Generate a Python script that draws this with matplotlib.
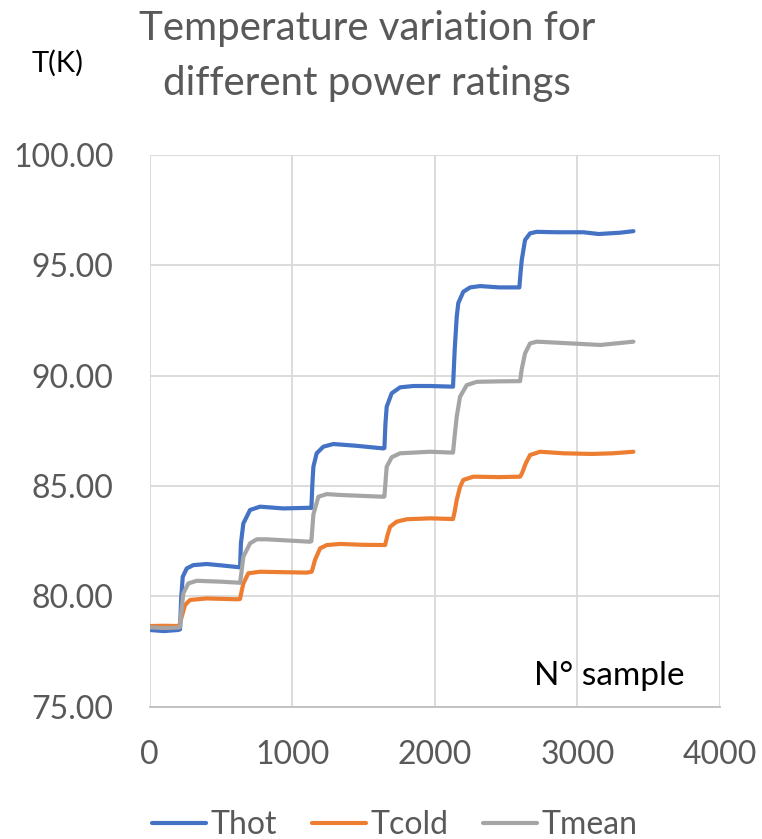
import matplotlib
matplotlib.use("Agg")
import matplotlib.pyplot as plt

plt.rcParams["font.family"] = ["Lato", "DejaVu Sans"]

# ── Measured temperatures vs sample number (breakpoints of the traces) ──
thot_n = [0, 100, 202, 214, 222, 233, 261, 307, 401, 500, 635,
          641, 658, 705, 775, 938, 1126, 1135,
          1142, 1149, 1172, 1219, 1289, 1450, 1640, 1647,
          1654, 1663, 1698, 1757, 1850, 1967, 2128,
          2140, 2154, 2165, 2200, 2248, 2318, 2450, 2593,
          2602, 2610, 2633, 2668, 2715, 2850, 3042, 3150, 3300, 3393]
thot_T = [78.47, 78.42, 78.47, 78.50, 79.90, 80.88, 81.26, 81.41, 81.46, 81.40, 81.31,
          82.40, 83.30, 83.91, 84.06, 83.98, 84.01, 84.00,
          85.10, 85.87, 86.48, 86.78, 86.90, 86.82, 86.70, 86.72,
          87.80, 88.59, 89.20, 89.47, 89.53, 89.53, 89.50,
          91.20, 92.67, 93.29, 93.80, 94.00, 94.06, 94.00, 94.00,
          94.70, 95.24, 96.15, 96.45, 96.52, 96.50, 96.50, 96.42, 96.48, 96.55]

tcold_n = [0, 100, 202, 210, 226, 249, 284, 401, 623, 635,
           645, 658, 693, 775, 1102, 1137,
           1148, 1160, 1196, 1243, 1336, 1500, 1652,
           1668, 1687, 1733, 1804, 1967, 2128,
           2140, 2154, 2177, 2200, 2270, 2450, 2598,
           2610, 2640, 2668, 2738, 2900, 3100, 3250, 3393]
tcold_T = [78.65, 78.66, 78.65, 78.70, 79.07, 79.60, 79.83, 79.90, 79.86, 79.88,
           80.20, 80.58, 81.04, 81.11, 81.07, 81.11,
           81.35, 81.64, 82.17, 82.32, 82.37, 82.33, 82.32,
           82.75, 83.15, 83.38, 83.49, 83.53, 83.50,
           83.85, 84.36, 84.95, 85.27, 85.42, 85.40, 85.42,
           85.55, 86.05, 86.40, 86.55, 86.48, 86.45, 86.48, 86.55]

tmean_n = [0, 100, 202, 214, 225, 237, 272, 331, 500, 635,
           645, 658, 705, 752, 822, 1126, 1135,
           1142, 1149, 1184, 1243, 1336, 1640, 1647,
           1655, 1663, 1698, 1757, 1967, 2128,
           2140, 2154, 2177, 2224, 2295, 2450, 2598,
           2610, 2633, 2668, 2715, 2900, 3160, 3393]
tmean_T = [78.59, 78.56, 78.58, 78.60, 79.40, 80.13, 80.58, 80.70, 80.66, 80.61,
           81.10, 81.79, 82.40, 82.58, 82.58, 82.47, 82.50,
           83.10, 83.70, 84.51, 84.63, 84.59, 84.51, 84.52,
           85.20, 85.87, 86.30, 86.48, 86.55, 86.51,
           87.30, 88.14, 89.04, 89.57, 89.72, 89.74, 89.75,
           90.30, 91.01, 91.46, 91.54, 91.48, 91.39, 91.54]

x_ticks = [0, 1000, 2000, 3000, 4000]
y_ticks = [75, 80, 85, 90, 95, 100]

BLUE = "#4472C4"
ORANGE = "#ED7D31"
GREY = "#A5A5A5"
TEXT = "#595959"

fig = plt.figure(figsize=(7.62, 8.39), dpi=100)
ax = fig.add_axes([0.1962, 0.1579, 0.7487, 0.6573])

ax.plot(thot_n, thot_T, color=BLUE, lw=3.0, label="Thot", solid_capstyle="round")
ax.plot(tcold_n, tcold_T, color=ORANGE, lw=3.0, label="Tcold", solid_capstyle="round")
ax.plot(tmean_n, tmean_T, color=GREY, lw=3.0, label="Tmean", solid_capstyle="round")

ax.set_xlim(0, 4000)
ax.set_ylim(75, 100)
ax.set_xticks(x_ticks)
ax.set_yticks(y_ticks)
ax.set_yticklabels([f"{v:.2f}" for v in y_ticks])
ax.tick_params(axis="both", length=0, labelsize=23, colors=TEXT)
ax.tick_params(axis="y", pad=26)
ax.tick_params(axis="x", pad=24)

ax.grid(True, color="#D9D9D9", lw=1.3)
ax.set_axisbelow(True)
for side in ["top", "right", "left"]:
    ax.spines[side].set_visible(False)
ax.spines["bottom"].set_color("#BFBFBF")
ax.spines["bottom"].set_linewidth(1.3)

# titles and axis captions
fig.text(0.482, 0.9523, "Temperature variation for", ha="center",
         va="baseline", fontsize=29, color=TEXT)
fig.text(0.482, 0.8868, "different power ratings", ha="center",
         va="baseline", fontsize=29, color=TEXT)
fig.text(0.075, 0.925, "T(K)", ha="center", va="center", fontsize=21, color="black")
ax.text(0.937, 0.039, "N° sample", transform=ax.transAxes, ha="right",
        va="baseline", fontsize=24, color="black")

fig.legend(loc="center", bbox_to_anchor=(0.518, 0.017), ncol=3, frameon=False,
           fontsize=23, labelcolor=TEXT, handlelength=1.7, handletextpad=0.12,
           columnspacing=1.1)

fig.savefig("out.png", dpi=100)
